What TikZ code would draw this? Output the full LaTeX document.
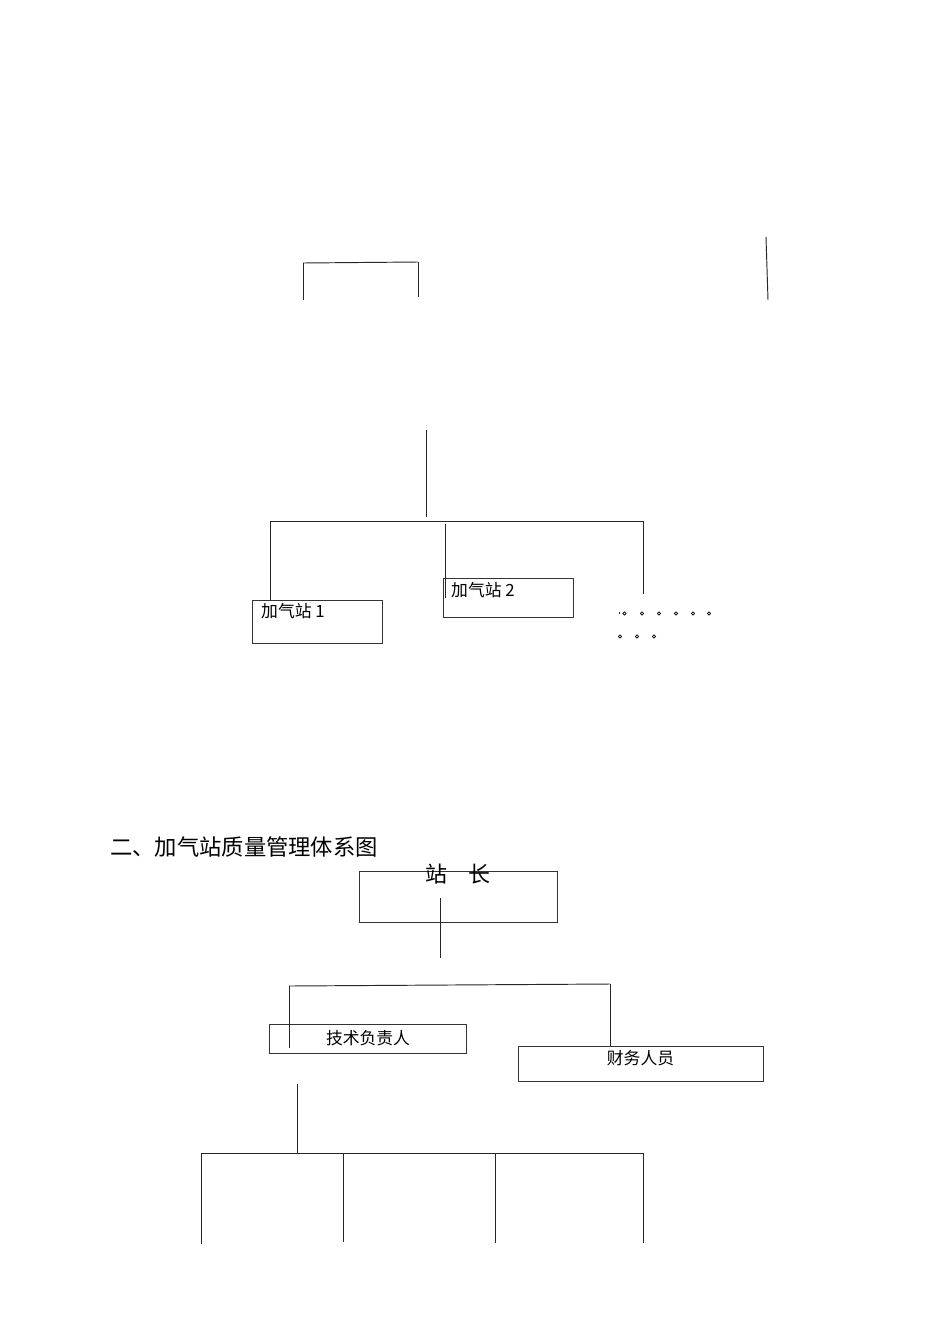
\documentclass[tikz,border=0pt]{standalone}
\usepackage{fontspec}
\newfontfamily\cjk{Noto Sans CJK SC}
\begin{document}
\begin{tikzpicture}[x=1pt,y=-1pt,
  ln/.style={line width=0.95pt, draw=black!85},
  box/.style={draw=black!80, line width=0.95pt, inner sep=0pt, outer sep=0pt, anchor=north west},
  lbl/.style={inner sep=0pt, font=\cjk\fontsize{16.8}{16.8}\selectfont},
  dot/.style={draw=black, line width=0.8pt}]
\useasboundingbox (0,0) rectangle (950,1344);
% ---------- upper part ----------
\coordinate (b1) at (303,300); \coordinate (b2) at (303,263);
\coordinate (b3) at (418,262); \coordinate (b4) at (418,297);
\draw[ln] (b1) -- (b2);
\draw[ln] (b2) -- (b3);
\draw[ln] (b3) -- (b4);
\coordinate (r1) at (766,237); \coordinate (r2) at (768,300);
\draw[ln] (r1) -- (r2);

\coordinate (t0) at (426,430); \coordinate (t1) at (426,517);
\draw[ln] (t0) -- (t1);
\coordinate (hL) at (270,521); \coordinate (hR) at (643,521);
\draw[ln] (hL) -- (hR);

\node[box, minimum width=130pt, minimum height=43pt] (s1) at (252,600) {};
\node[box, minimum width=130pt, minimum height=39pt] (s2) at (443,578) {};
\node[lbl, anchor=west] (s1t) at (261,611) {加气站 1};
\node[lbl, anchor=west] (s2t) at (451,590) {加气站 2};

\coordinate (v2a) at (445,524); \coordinate (v2b) at (445,598);
\coordinate (v3b) at (643,594);
\draw[ln] (hL) -- (hL |- s1.north);
\draw[ln] (v2a) -- (v2b);
\draw[ln] (hR) -- (v3b);

% ellipsis dots
\fill (619.5,613) circle (0.8pt);
\foreach \x in {624.5,642,659,676,693,709}
  \draw[dot] (\x,613.5) circle (1.6pt);
\foreach \x in {620,637,654}
  \draw[dot] (\x,636.5) circle (1.6pt);

% ---------- lower part ----------
\node[inner sep=0pt, anchor=west, font=\cjk\fontsize{22.3}{22.3}\selectfont] (title) at (110,847) {二、加气站质量管理体系图};

\node[box, minimum width=198pt, minimum height=51pt] (zz) at (359,871) {};
\node[inner sep=0pt, font=\cjk\fontsize{22}{22}\selectfont] (zzt) at (458,874) {站\hspace{21pt}长};

\coordinate (z0) at (440,898); \coordinate (z1) at (440,958);
\draw[ln] (z0) -- (z1);

\node[box, minimum width=197pt, minimum height=29pt] (js) at (269,1024) {};
\node[lbl] (jst) at (368,1038) {技术负责人};
\node[box, minimum width=245pt, minimum height=35pt] (cw) at (518,1046) {};
\node[lbl] (cwt) at (640.5,1058) {财务人员};

\coordinate (m1) at (289,986); \coordinate (m2) at (610,984);
\coordinate (m1b) at (289,1048);
\draw[ln] (m1) -- (m2);
\draw[ln] (m1) -- (m1b);
\draw[ln] (m2) -- (m2 |- cw.north);

\coordinate (k0) at (297,1084); \coordinate (k1) at (297,1153);
\draw[ln] (k0) -- (k1);
\coordinate (kL) at (201,1153); \coordinate (kR) at (643,1153);
\draw[ln] (kL) -- (kR);
\coordinate (d1) at (201,1244); \coordinate (d2a) at (343,1153); \coordinate (d2) at (343,1242);
\coordinate (d3a) at (495,1153); \coordinate (d3) at (495,1243); \coordinate (d4) at (643,1243);
\draw[ln] (kL) -- (d1);
\draw[ln] (d2a) -- (d2);
\draw[ln] (d3a) -- (d3);
\draw[ln] (kR) -- (d4);
\end{tikzpicture}
\end{document}
